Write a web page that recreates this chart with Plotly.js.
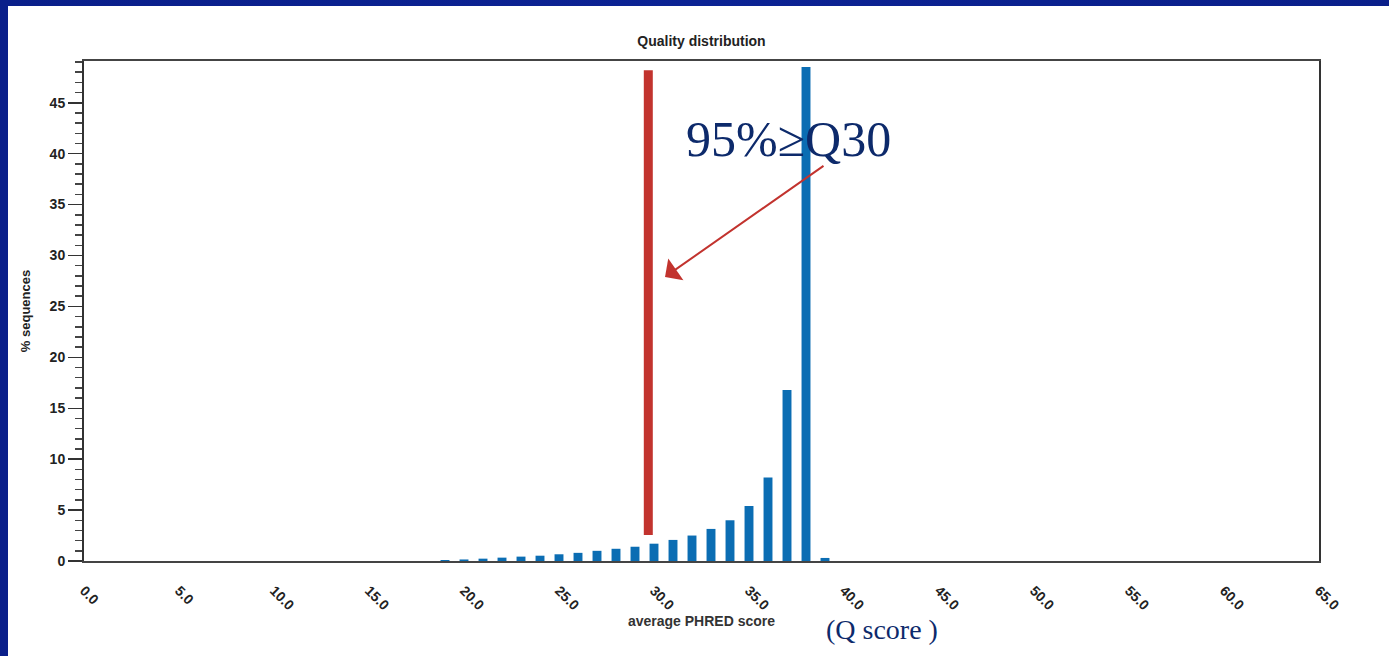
<!DOCTYPE html>
<html>
<head>
<meta charset="utf-8">
<script src="https://cdn.plot.ly/plotly-3.0.1.min.js"></script>
<style>
  html, body { margin: 0; padding: 0; width: 1389px; height: 656px; overflow: hidden;
    background: linear-gradient(90deg, #0a1f8a 0%, #0c2394 50%, #0a1f8a 100%); }
  #chart { position: absolute; left: 8px; top: 6px; width: 1381px; height: 650px; background: #fff; }
</style>
</head>
<body>
<div id="chart"></div>
<script>
// Data
const qScores = [19, 20, 21, 22, 23, 24, 25, 26, 27, 28, 29, 30, 31, 32, 33, 34, 35, 36, 37, 38, 39];
const pctSequences = [0.1, 0.15, 0.23, 0.33, 0.43, 0.52, 0.66, 0.8, 1.0, 1.2, 1.4, 1.7, 2.07, 2.5, 3.15, 4.0, 5.4, 8.2, 16.8, 48.5, 0.3];
const xTickVals = [0, 5, 10, 15, 20, 25, 30, 35, 40, 45, 50, 55, 60, 65];
const xTickText = ['0.0', '5.0', '10.0', '15.0', '20.0', '25.0', '30.0', '35.0', '40.0', '45.0', '50.0', '55.0', '60.0', '65.0'];
const yTickVals = [0, 5, 10, 15, 20, 25, 30, 35, 40, 45];
const thresholdQ = 29.7;
const thresholdSpan = [2.55, 48.2];
const labelText = '95%≥Q30';
const unitText = '(Q score )';

const sans = 'Liberation Sans, Arial, sans-serif';
const serif = 'Liberation Serif, Times New Roman, serif';

const trace = {
  type: 'bar',
  x: qScores,
  y: pctSequences,
  width: 0.47,
  marker: { color: '#0b6db3', line: { width: 0 } },
  hoverinfo: 'x+y'
};

const layout = {
  width: 1381, height: 650,
  paper_bgcolor: '#ffffff',
  plot_bgcolor: '#ffffff',
  margin: { l: 76, r: 70, t: 55, b: 95 },
  showlegend: false,
  title: {
    text: 'Quality distribution',
    font: { family: sans, size: 14, color: '#222', weight: 'bold' },
    x: 0.5, xanchor: 'center', xref: 'paper',
    y: 0.946, yanchor: 'middle', yref: 'container'
  },
  xaxis: {
    range: [0, 65],
    tickvals: xTickVals,
    ticktext: xTickText,
    tickangle: 45,
    ticks: 'outside', ticklen: 14, tickcolor: 'rgba(0,0,0,0)',
    showgrid: false, zeroline: false,
    showline: true, mirror: true, linecolor: '#444', linewidth: 2,
    tickfont: { family: sans, size: 14, color: '#222', weight: 'bold' },
    title: { text: 'average PHRED score', standoff: 0,
      font: { family: sans, size: 14, color: '#333', weight: 'bold' } }
  },
  yaxis: {
    range: [0, 49.1],
    tickvals: yTickVals,
    ticks: 'outside', ticklen: 14, tickwidth: 1.5, tickcolor: '#333',
    minor: { dtick: 1, ticks: 'outside', ticklen: 7, tickwidth: 1.5, tickcolor: '#444' },
    showgrid: false, zeroline: false,
    showline: true, mirror: true, linecolor: '#333', linewidth: 2,
    tickfont: { family: sans, size: 14, color: '#222', weight: 'bold' },
    title: { text: '% sequences', standoff: 16,
      font: { family: sans, size: 13, color: '#222', weight: 'bold' } }
  },
  shapes: [{
    type: 'line', xref: 'x', yref: 'y', layer: 'above',
    x0: thresholdQ, x1: thresholdQ, y0: thresholdSpan[0], y1: thresholdSpan[1],
    line: { color: '#c2332e', width: 9 }
  }],
  annotations: [
    {
      xref: 'x', yref: 'y', x: 37.1, y: 41.4,
      text: labelText, showarrow: false,
      font: { family: serif, size: 50, color: '#0d2a6b' }
    },
    {
      xref: 'x', yref: 'y', x: 30.58, y: 27.9,
      axref: 'x', ayref: 'y', ax: 39.0, ay: 38.9,
      text: '', showarrow: true,
      arrowhead: 1, arrowsize: 2.2, arrowwidth: 2, arrowcolor: '#c2332e'
    },
    {
      xref: 'paper', yref: 'paper', x: 0.646, y: -0.172,
      text: unitText, showarrow: false,
      font: { family: serif, size: 28, color: '#0d2a6b' }
    }
  ]
};

Plotly.newPlot('chart', [trace], layout, { displayModeBar: false, staticPlot: true });
</script>
</body>
</html>
